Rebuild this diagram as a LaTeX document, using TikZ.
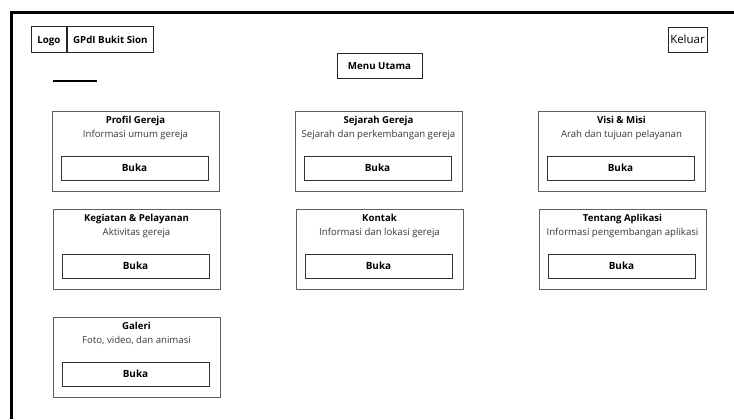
\documentclass[tikz,border=0pt]{standalone}
\usepackage{fontspec}
\setmainfont{Open Sans}
\usetikzlibrary{positioning}
\definecolor{cardgray}{RGB}{95,95,95}
\definecolor{textgray}{RGB}{55,55,55}

\tikzset{
  hbox/.style={draw=black!85, line width=0.8pt, inner sep=0pt, minimum height=0.78cm, text height=1.6ex, text depth=0.4ex, font=\bfseries\fontsize{8.3}{10}\selectfont},
  card/.style={draw=cardgray, line width=0.8pt, minimum width=5.01cm, minimum height=2.4cm, anchor=north west, inner sep=0pt},
  button/.style={draw=black!80, line width=0.8pt, minimum width=4.41cm, minimum height=0.72cm, inner sep=0pt, text height=1.6ex, text depth=0.4ex, font=\bfseries\fontsize{8.5}{10}\selectfont},
  cardtitle/.style={inner sep=0pt, text height=1.6ex, text depth=0.4ex, font=\bfseries\fontsize{8.2}{10}\selectfont},
  cardtext/.style={inner sep=0pt, text height=1.6ex, text depth=0.4ex, text=textgray, font=\fontsize{8.2}{10}\selectfont}
}

\begin{document}
\begin{tikzpicture}[x=0.03cm, y=-0.03cm]
\useasboundingbox (0,0) rectangle (734,419);

% Frame
\draw[line width=2.4pt] (11.5,419) |- (734,12.5);

% Header
\node[hbox, minimum width=1.05cm, anchor=north west] (logo) at (31,26) {Logo};
\node[hbox, minimum width=2.58cm, anchor=west] (church) at (logo.east) {GPdI Bukit Sion};
\node[hbox, minimum width=1.17cm, minimum height=0.75cm, font=\fontsize{9.8}{11}\selectfont] (logout) at (687.5,39.5) {Keluar};
\node[hbox, minimum width=2.55cm, minimum height=0.75cm] (menu) at (379.5,65.5) {Menu Utama};

% Underline
\draw[line width=1.7pt] (53,81) -- (97,81);

% Menu cards
\foreach \n/\x/\y/\title/\desc in {
profil/52/111/Profil Gereja/Informasi umum gereja,
sejarah/295/111/Sejarah Gereja/Sejarah dan perkembangan gereja,
visi/538/111/Visi \& Misi/Arah dan tujuan pelayanan,
kegiatan/53/209/Kegiatan \& Pelayanan/Aktivitas gereja,
kontak/296/209/Kontak/Informasi dan lokasi gereja,
tentang/539/209/Tentang Aplikasi/Informasi pengembangan aplikasi,
galeri/53/317/Galeri/{Foto, video, dan animasi}
}{
\node[card] (\n) at (\x,\y) {};
\node[cardtitle] (\n-title) at ({\x+83.5},{\y+9}) {\title};
\node[cardtext] (\n-text) at ({\x+83.5},{\y+23}) {\desc};
\node[button] (\n-btn) at ({\x+82.5},{\y+57}) {Buka};
}

\end{tikzpicture}
\end{document}
